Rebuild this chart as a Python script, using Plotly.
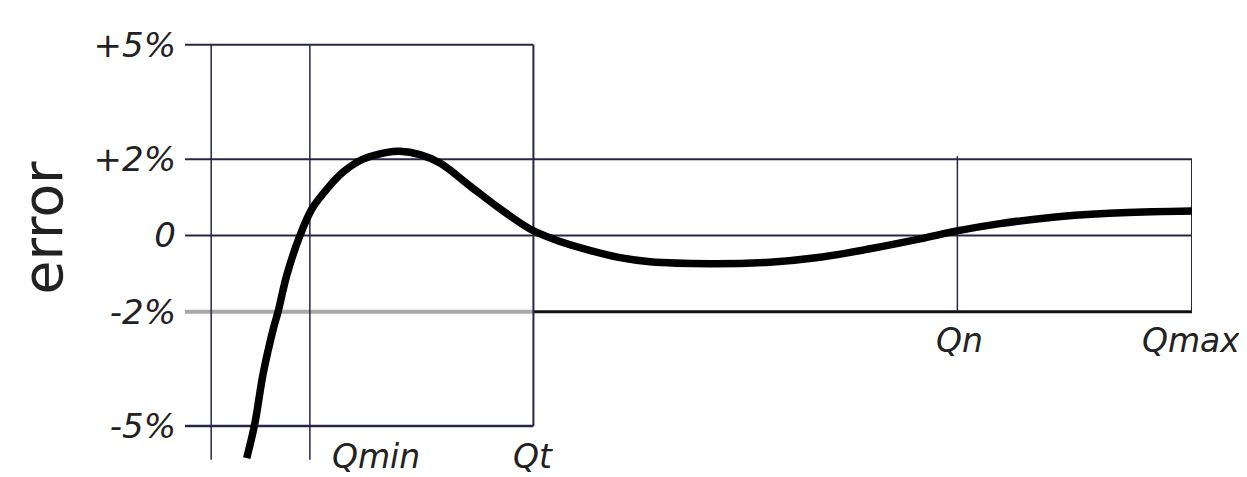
import plotly.graph_objects as go

# ---- data (x in relative flow units 0..100, y in % error) ----
curve_x = [6.13, 6.95, 7.75, 8.74, 9.24, 10.13, 11.42, 12.61, 14.10, 15.69, 17.68,
           20.06, 21.35, 23.34, 25.32, 28.30, 31.28, 34.26, 36.54, 39.92,
           43.20, 46.18, 52.14, 58.09, 63.06, 68.02, 72.99, 76.66, 80.93, 86.20,
           90.86, 96.13, 100.0]
curve_y = [-5.84, -4.91, -3.64, -2.48, -2.0, -1.02, 0.0, 0.70, 1.22, 1.66, 2.0,
           2.18, 2.21, 2.12, 1.90, 1.30, 0.70, 0.17, -0.09, -0.37,
           -0.58, -0.69, -0.74, -0.70, -0.57, -0.35, -0.09, 0.12, 0.31, 0.48,
           0.57, 0.62, 0.64]

tick_vals = [5, 2, 0, -2, -5]
tick_text = ["+5%", "+2%", "0", "-2%", "-5%"]

q_names = ["Qmin", "Qt", "Qn", "Qmax"]
q_pos = [12.4, 34.6, 76.7, 100.0]
q_label_x = [18.96, 34.6, 76.9, 99.9]
q_label_y = [-5.79, -5.79, -2.76, -2.76]
origin_x = 2.6
start_x = 0.0

wide_limit = 2      # ±2% band spans to Qmax
narrow_limit = 5    # ±5% band up to Qt
bottom_y = -5.88

NAVY = "#26264a"

fig = go.Figure()


def hline(y, x0, x1, color=NAVY, width=2):
    fig.add_trace(go.Scatter(x=[x0, x1], y=[y, y], mode="lines",
                             line=dict(color=color, width=width),
                             hoverinfo="skip", showlegend=False))


def vline(x, y0, y1, color=NAVY, width=1.5):
    fig.add_trace(go.Scatter(x=[x, x], y=[y0, y1], mode="lines",
                             line=dict(color=color, width=width),
                             hoverinfo="skip", showlegend=False))


hline(narrow_limit, start_x, q_pos[1])
hline(wide_limit, start_x, q_pos[3])
hline(0, start_x, q_pos[3])
hline(-wide_limit, start_x, q_pos[1], color="#a8a8a8", width=4)
hline(-wide_limit, q_pos[1], q_pos[3], color="#111111", width=3)
hline(-narrow_limit, start_x, q_pos[1], width=2.5)

vline(origin_x, bottom_y, narrow_limit)
vline(q_pos[0], bottom_y, narrow_limit)
vline(q_pos[1], -narrow_limit, narrow_limit, width=2)
vline(q_pos[2], -wide_limit, wide_limit + 0.08)
vline(q_pos[3], -wide_limit, wide_limit, width=2)

# error curve
fig.add_trace(go.Scatter(x=curve_x, y=curve_y, mode="lines",
                         line=dict(color="#000000", width=7.5, shape="spline", smoothing=1.0),
                         hoverinfo="skip", showlegend=False))

label_font = dict(family="DejaVu Sans", size=33, color="#222222", style="italic")

for name, xx, yy in zip(q_names, q_label_x, q_label_y):
    fig.add_annotation(x=xx, y=yy, xref="x", yref="y", text=name, showarrow=False,
                       font=label_font, xanchor="center", yanchor="middle")

fig.add_annotation(x=-0.141, y=0.55, xref="paper", yref="paper", text="error",
                   textangle=-90, showarrow=False,
                   font=dict(family="DejaVu Sans", size=55, color="#222222"),
                   xanchor="center", yanchor="middle")

fig.update_layout(
    width=1247, height=477,
    margin=dict(l=177, r=63, t=25, b=20),
    paper_bgcolor="white", plot_bgcolor="white",
    xaxis=dict(range=[0, 100], visible=False, fixedrange=True),
    yaxis=dict(range=[-6.02, 5.31], tickvals=tick_vals, ticktext=tick_text,
               showgrid=False, zeroline=False, showline=False, ticks="",
               ticklabelstandoff=8,
               tickfont=dict(family="DejaVu Sans", size=34, color="#222222", style="italic")),
    showlegend=False,
)

fig.write_html("out.html")
